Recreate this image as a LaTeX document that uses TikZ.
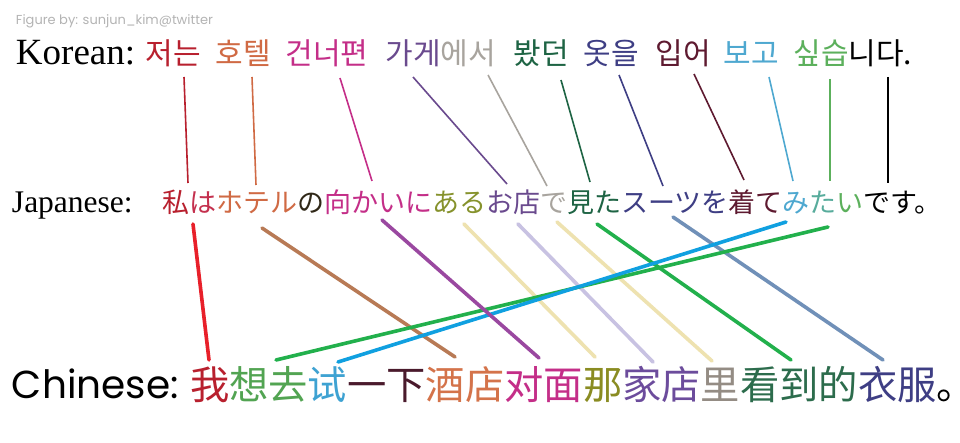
\documentclass[tikz,border=0pt]{standalone}
\usepackage{fontspec}
\newfontfamily\kofont{Noto Sans CJK KR}
\newfontfamily\jafont{Noto Sans CJK JP}
\newfontfamily\zhfont{Noto Sans CJK SC}
\newfontfamily\geofont{Poppins}
\newfontfamily\serfont{Liberation Serif}
\definecolor{cred}{HTML}{B8202E}
\definecolor{ccrim}{HTML}{C4304E}
\definecolor{corange}{HTML}{D06A44}
\definecolor{cmagenta}{HTML}{C42E88}
\definecolor{cpurple}{HTML}{6A4A8E}
\definecolor{cgray}{HTML}{A8A49E}
\definecolor{cdkgreen}{HTML}{1E6444}
\definecolor{cnavy}{HTML}{3E3E84}
\definecolor{cmaroon}{HTML}{5E1A30}
\definecolor{cltblue}{HTML}{4EA8D0}
\definecolor{cteal}{HTML}{58AC9C}
\definecolor{cgreen}{HTML}{5CB05C}
\definecolor{cdark}{HTML}{302818}
\definecolor{colive}{HTML}{86922C}
\definecolor{czgreen}{HTML}{52A452}
\definecolor{czblue}{HTML}{3EA2D2}
\definecolor{czmaroon}{HTML}{4A1A2C}
\definecolor{czorange}{HTML}{D4734A}
\definecolor{czolive}{HTML}{8A8C22}
\definecolor{czpurple}{HTML}{6C4C9C}
\definecolor{czgray}{HTML}{948C84}
\definecolor{czgreenb}{HTML}{2C6C4C}
\definecolor{lred}{HTML}{E8202A}
\definecolor{lbrown}{HTML}{B87A55}
\definecolor{lpurple}{HTML}{9A48A0}
\definecolor{lyellow}{HTML}{EEE2B0}
\definecolor{llav}{HTML}{C8C2E2}
\definecolor{lgreen}{HTML}{22B04C}
\definecolor{lsteel}{HTML}{7090B8}
\definecolor{lblue}{HTML}{10A0E0}
\definecolor{credit}{HTML}{B4B4B4}
\tikzset{
  txt/.style={inner sep=0pt, outer sep=0pt, anchor=base west},
  kor/.style={txt, font={\kofont\fontsize{30}{31}\selectfont}},
  thinline/.style={line width=1.6pt},
  thickline/.style={line width=3.6pt, line cap=round},
}
\begin{document}
\begin{tikzpicture}[x=1pt,y=-1pt]
\fill[white] (0,0) rectangle (960,443);
\useasboundingbox (0,0) rectangle (960,443);

% credit
\node[txt, font={\geofont\fontsize{13}{14}\selectfont}, text=credit] (credit) at (16,25) {Figure by: sunjun\_kim@twitter};

% Korean line
\node[txt, font={\serfont\fontsize{37}{38}\selectfont}] (kolab) at (16,65) {Korean:};
\node[kor, text=cred] (ko1) at (145.5,65) {저는};
\node[kor, text=corange] (ko2) at (215.5,65) {호텔};
\node[kor, text=cmagenta] (ko3) at (285.5,65) {건너편};
\node[kor] (ko4) at (385.5,65) {\textcolor{cpurple}{가게}\textcolor{cgray}{에서}};
\node[kor, text=cdkgreen] (ko5) at (513.5,65) {봤던};
\node[kor, text=cnavy] (ko6) at (583.5,65) {옷을};
\node[kor, text=cmaroon] (ko7) at (655.5,65) {입어};
\node[kor, text=cltblue] (ko8) at (723.5,65) {보고};
\node[kor] (ko9) at (793.5,65) {\textcolor{cgreen}{싶습}\textcolor{black}{니다.}};

% Japanese line
\node[txt, font={\serfont\fontsize{31.5}{32}\selectfont}] (jalab) at (12,213) {Japanese:};
\node[txt, font={\jafont\fontsize{27}{28}\selectfont}] (jatext) at (162,213)
  {\textcolor{cred}{私}\textcolor{ccrim}{は}\textcolor{corange}{ホテル}\textcolor{cdark}{の}\textcolor{cmagenta}{向かいに}\textcolor{colive}{ある}\textcolor{cpurple}{お店}\textcolor{cgray}{で}\textcolor{cdkgreen}{見た}\textcolor{cnavy}{スーツを}\textcolor{cmaroon}{着て}\textcolor{cltblue}{み}\textcolor{cteal}{た}\textcolor{cgreen}{い}\textcolor{black}{です。}};

% Chinese line
\node[txt, font={\geofont\fontsize{39}{41}\selectfont}] (zhlab) at (12,398) {Chinese:};
\node[txt, font={\zhfont\fontsize{39.3}{41}\selectfont}] (zhtext) at (190,399)
  {\textcolor{cred}{我}\textcolor{czgreen}{想去}\textcolor{czblue}{试}\textcolor{czmaroon}{一下}\textcolor{czorange}{酒店}\textcolor{cmagenta}{对面}\textcolor{czolive}{那}\textcolor{czpurple}{家店}\textcolor{czgray}{里}\textcolor{czgreenb}{看到的}\textcolor{cnavy}{衣服}\rlap{\textcolor{black}{。}}};

% Korean -> Japanese endpoints
\coordinate (ka1) at (184,77);  \coordinate (kb1) at (188,183);
\coordinate (ka2) at (252,77);  \coordinate (kb2) at (256,185);
\coordinate (ka3) at (340,78);  \coordinate (kb3) at (372,181);
\coordinate (ka4) at (413,77);  \coordinate (kb4) at (507,184);
\coordinate (ka5) at (488,75);  \coordinate (kb5) at (547,186);
\coordinate (ka6) at (561,80);  \coordinate (kb6) at (590,182);
\coordinate (ka7) at (619,75);  \coordinate (kb7) at (663,186);
\coordinate (ka8) at (694,74);  \coordinate (kb8) at (744,180);
\coordinate (ka9) at (769,77);  \coordinate (kb9) at (793,181);
\coordinate (ka10) at (830,79); \coordinate (kb10) at (830,181);
\coordinate (ka11) at (888,77); \coordinate (kb11) at (888,183);

\draw[thinline, cred] (ka1) -- (kb1);
\draw[thinline, corange] (ka2) -- (kb2);
\draw[thinline, cmagenta] (ka3) -- (kb3);
\draw[thinline, cpurple] (ka4) -- (kb4);
\draw[thinline, cgray] (ka5) -- (kb5);
\draw[thinline, cdkgreen] (ka6) -- (kb6);
\draw[thinline, cnavy] (ka7) -- (kb7);
\draw[thinline, cmaroon] (ka8) -- (kb8);
\draw[thinline, cltblue] (ka9) -- (kb9);
\draw[thinline, cgreen] (ka10) -- (kb10);
\draw[thinline, black] (ka11) -- (kb11);

% Japanese -> Chinese endpoints
\coordinate (ja1) at (193,224);  \coordinate (jb1) at (209,360);
\coordinate (ja2) at (262,228);  \coordinate (jb2) at (455,357);
\coordinate (ja3) at (382,220);  \coordinate (jb3) at (539,358);
\coordinate (ja4) at (464,224);  \coordinate (jb4) at (595,357);
\coordinate (ja5) at (518,224);  \coordinate (jb5) at (653,362);
\coordinate (ja6) at (557,222);  \coordinate (jb6) at (712,361);
\coordinate (ja7) at (597,224);  \coordinate (jb7) at (791,360);
\coordinate (ja8) at (673,217);  \coordinate (jb8) at (883,360);
\coordinate (ja9) at (786,222);  \coordinate (jb9) at (338,362);
\coordinate (ja10) at (828,227); \coordinate (jb10) at (276,360);

\draw[thickline, lred] (ja1) -- (jb1);
\draw[thickline, lbrown] (ja2) -- (jb2);
\draw[thickline, lyellow] (ja4) -- (jb4);
\draw[thickline, llav] (ja5) -- (jb5);
\draw[thickline, lyellow] (ja6) -- (jb6);
\draw[thickline, lgreen] (ja7) -- (jb7);
\draw[thickline, lsteel] (ja8) -- (jb8);
\draw[thickline, lgreen] (ja10) -- (jb10);
\draw[thickline, lblue] (ja9) -- (jb9);
\draw[thickline, lpurple] (ja3) -- (jb3);
\end{tikzpicture}
\end{document}
